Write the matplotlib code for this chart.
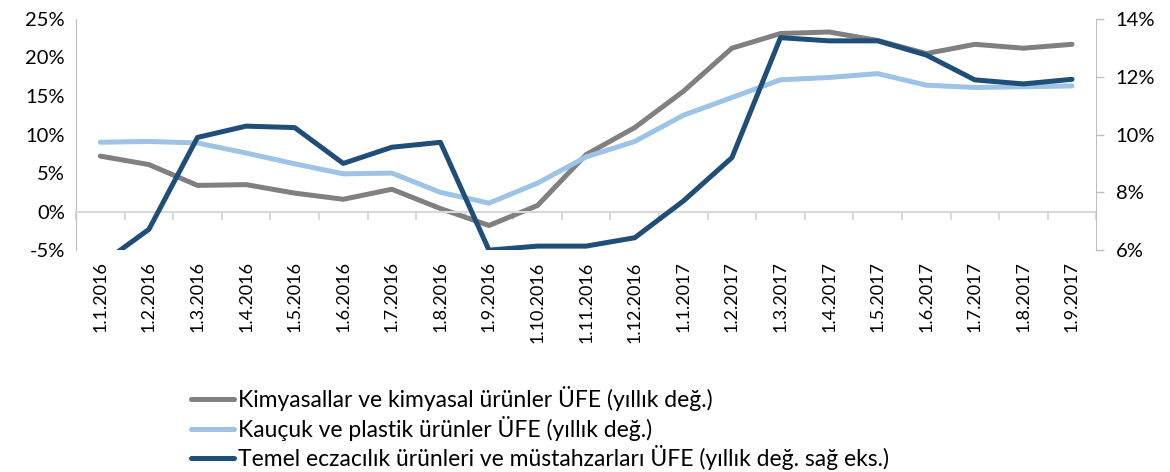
import numpy as np
import matplotlib
matplotlib.use("Agg")
import matplotlib.pyplot as plt
from matplotlib.ticker import FuncFormatter

plt.rcParams['font.family'] = ['Lato', 'DejaVu Sans']

# data
dates = ['1.1.2016', '1.2.2016', '1.3.2016', '1.4.2016', '1.5.2016', '1.6.2016', '1.7.2016',
         '1.8.2016', '1.9.2016', '1.10.2016', '1.11.2016', '1.12.2016', '1.1.2017', '1.2.2017',
         '1.3.2017', '1.4.2017', '1.5.2017', '1.6.2017', '1.7.2017', '1.8.2017', '1.9.2017']
kimya = [7.2, 6.1, 3.4, 3.5, 2.4, 1.6, 2.9, 0.4, -1.8, 0.8, 7.4, 10.9, 15.6, 21.2,
         23.1, 23.3, 22.2, 20.5, 21.7, 21.2, 21.7]
kaucuk = [9.0, 9.1, 8.9, 7.6, 6.2, 4.9, 5.0, 2.5, 1.1, 3.7, 7.1, 9.1, 12.5, 14.8,
          17.1, 17.4, 17.9, 16.4, 16.1, 16.2, 16.3]
eczaci = [5.5, 6.72, 9.9, 10.29, 10.24, 9.0, 9.56, 9.73, 6.0, 6.14, 6.14, 6.43, 7.7, 9.2,
          13.35, 13.24, 13.24, 12.75, 11.89, 11.75, 11.91]

labels = ['Kimyasallar ve kimyasal ürünler ÜFE (yıllık değ.)',
          'Kauçuk ve plastik ürünler ÜFE (yıllık değ.)',
          'Temel eczacılık ürünleri ve müstahzarları ÜFE (yıllık değ. sağ eks.)']

x = np.arange(len(dates))

fig = plt.figure(figsize=(11.7, 4.72), dpi=100)
ax = fig.add_axes([0.065, 0.470, 0.872, 0.490])
ax2 = ax.twinx()

l1, = ax.plot(x, kimya, color='#808080', lw=3.6, solid_capstyle='round', label=labels[0])
l2, = ax.plot(x, kaucuk, color='#9DC3E6', lw=3.6, solid_capstyle='round', label=labels[1])
l3, = ax2.plot(x, eczaci, color='#1F4E79', lw=3.6, solid_capstyle='round', label=labels[2])

ax.set_xlim(-0.5, len(dates) - 0.5)
ax.set_ylim(-5, 25)
ax.set_yticks(np.arange(-5, 26, 5))
ax.yaxis.set_major_formatter(FuncFormatter(lambda v, p: '%d%%' % v))
ax2.set_ylim(6, 14)
ax2.set_yticks(np.arange(6, 15, 2))
ax2.yaxis.set_major_formatter(FuncFormatter(lambda v, p: '%d%%' % v))

grey = '#bfbfbf'
for a in (ax, ax2):
    a.spines['top'].set_visible(False)
    a.spines['bottom'].set_visible(False)
ax.spines['right'].set_visible(False)
ax2.spines['left'].set_visible(False)
ax.spines['left'].set_color(grey)
ax2.spines['right'].set_color(grey)

ax.tick_params(axis='y', length=0, labelsize=14.5, pad=8, colors='#000000')
ax2.tick_params(axis='y', length=6, width=1, color=grey, labelsize=14.5, pad=8)

# category axis line at 0 with boundary ticks
ax.spines['bottom'].set_visible(True)
ax.spines['bottom'].set_position(('data', 0))
ax.spines['bottom'].set_color('#d9d9d9')
ax.spines['bottom'].set_linewidth(1.5)
ax.set_xticks(np.arange(-0.5, len(dates), 1.0))
ax.tick_params(axis='x', length=6, width=1.5, color='#d9d9d9', labelbottom=False)

sec = ax.secondary_xaxis('bottom')
sec.spines['bottom'].set_visible(False)
sec.set_xticks(x)
sec.set_xticklabels(dates, rotation=90)
sec.tick_params(axis='x', length=0, labelsize=13, pad=8)

fig.legend(handles=[l1, l2, l3], loc='upper left', bbox_to_anchor=(0.163, 0.182),
           frameon=False, fontsize=16.5, handlelength=1.9, handletextpad=0.15,
           labelspacing=0.2, borderaxespad=0, borderpad=0)

fig.savefig('out.png', dpi=100)
